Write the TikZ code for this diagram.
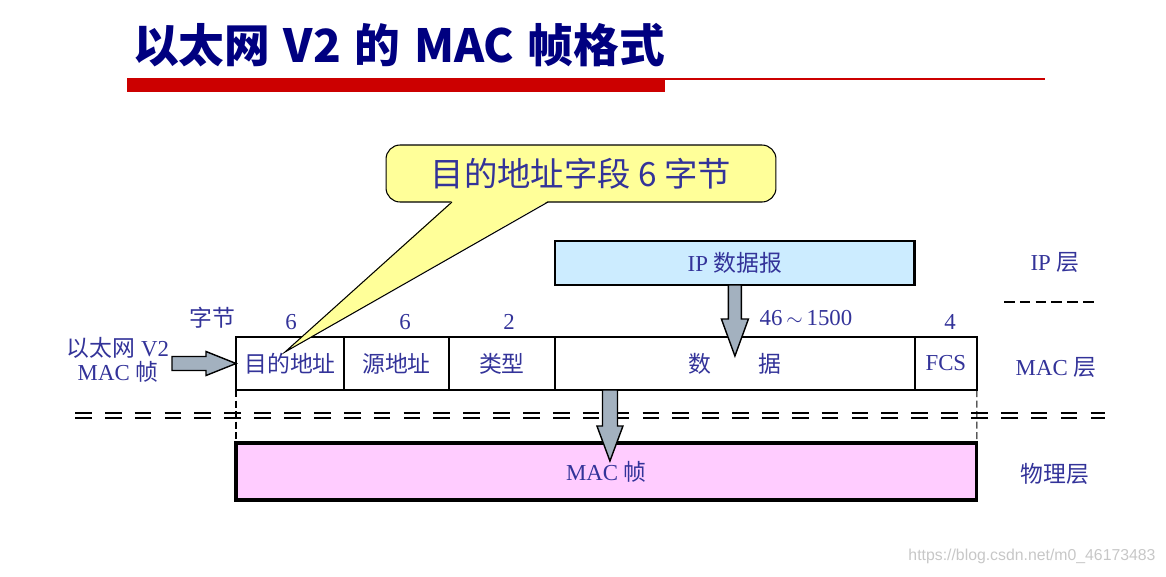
\documentclass[tikz,border=0pt]{standalone}
\usepackage{fontspec}
\setmainfont{Liberation Serif}
\newfontfamily\cjk{Noto Sans CJK SC}
\usetikzlibrary{positioning,calc}
\definecolor{txtblue}{RGB}{51,51,153}
\definecolor{titleblue}{RGB}{0,0,128}
\definecolor{barred}{RGB}{204,0,0}
\definecolor{calloutyellow}{RGB}{255,255,153}
\definecolor{ipblue}{RGB}{204,236,255}
\definecolor{macpink}{RGB}{255,204,255}
\definecolor{arrowgrey}{RGB}{163,177,191}

\begin{document}
\begin{tikzpicture}[x=0.02cm, y=-0.02cm,
  every node/.style={text=txtblue, font=\fontsize{13}{15}\selectfont, inner sep=0pt, outer sep=0pt},
  cell/.style={draw=black, line width=1.1pt, minimum height=1.06cm},
  fat/.style={draw=black, fill=arrowgrey, line width=0.8pt, line join=miter},
  sepline/.style={dash pattern=on 9.5pt off 7.5pt, line width=0.9pt}]
\useasboundingbox (0,0) rectangle (1166,576);

% title and bar
\node[anchor=west, text=titleblue, font=\cjk\bfseries\fontsize{26}{28}\selectfont] (title) at (133,45) {以太网\hspace{0.3em}V2\hspace{0.3em}的\hspace{0.3em}MAC\hspace{0.3em}帧格式};
\fill[barred] (127,78) rectangle (665,92);
\draw[barred, line width=1.2pt] (665,79) -- (1045,79);

% the frame
\node[cell, minimum width=2.16cm] (dst) at (290,363.5) {\cjk 目的地址};
\node[cell, minimum width=2.10cm, right=0pt of dst] (src) {\cjk 源地址};
\node[cell, minimum width=2.12cm, right=0pt of src] (type) {\cjk 类型};
\node[cell, minimum width=7.2cm, right=0pt of type] (data) {{\cjk 数}\hspace{27pt}{\cjk 据}};
\node[cell, minimum width=1.24cm, right=0pt of data] (fcs) {FCS};

% byte counts
\node (bytes) at (212,318) {\cjk 字节};
\node (ndst) at (291,322) {6};
\node (nsrc) at (405,322) {6};
\node (ntype) at (509,322) {2};
\node (ndata) at (806,318) {46\,$\sim$\,1500};
\node (nfcs) at (950,322) {4};

% left label and arrow
\node[align=center, font=\fontsize{13}{13.5}\selectfont] (eth) at (118,360) {{\cjk 以太网} V2\\MAC {\cjk 帧}};
\draw[fat] ($(dst.west)+(-64,-7)$) -- ++(34,0) -- ++(0,-5) -- (dst.west) -- ++(-30,12) -- ++(0,-5) -- ++(-34,0) -- cycle;

% IP datagram
\node[draw=black, fill=ipblue, line width=1.6pt, minimum width=7.2cm, minimum height=0.88cm, above=1.04cm of data] (ip) {IP {\cjk 数据报}};
\draw[fat] ($(ip.south)+(-6.5,0)$) -- ++(0,34) -- ++(-7,0) -- ($(ip.south)+(0,71)$) -- ++(13.5,-37) -- ++(-7,0) -- ++(0,-34) -- cycle;

% separator
\coordinate (sl) at (75,415.5);
\coordinate (sr) at (1105,415.5);
\draw[sepline, double, double distance=2pt] (sl) -- (sr);

% MAC frame on the physical layer
\node[draw=black, fill=macpink, line width=1.8pt, minimum width=14.82cm, minimum height=1.14cm, anchor=north west] (mac) at ($(dst.south west)+(0,53)$) {MAC {\cjk 帧}};
\draw[line width=0.6pt, dash pattern=on 4pt off 2pt] (dst.south west) -- (mac.north west);
\draw[line width=0.6pt, dash pattern=on 4pt off 2pt] (fcs.south east) -- (mac.north east);
\coordinate (ma) at ($(data.south west)+(55,0)$);
\draw[fat] ($(ma)+(-7.5,0)$) -- ++(0,36) -- ++(-5.5,0) -- ($(ma)+(0,71)$) -- ++(13,-35) -- ++(-5.5,0) -- ++(0,-36) -- cycle;

% layers
\node (iplayer) at (1055,262) {IP {\cjk 层}};
\coordinate (ld1) at (1004,302);
\coordinate (ld2) at (1095,302);
\draw[line width=0.7pt, dash pattern=on 6pt off 3pt] (ld1) -- (ld2);
\node (maclayer) at (1056,367) {MAC {\cjk 层}};
\node (phylayer) at (1055,474) {\cjk 物理层};

% callout
\node[draw=black, fill=calloutyellow, rounded corners=8pt, minimum width=7.8cm, minimum height=1.14cm, line width=0.6pt, font=\cjk\fontsize{19}{21}\selectfont] (note) at (581,173.5) {目的地址字段 6 字节};
\coordinate (tip) at ($(dst.north)+(-5,15)$);
\fill[calloutyellow] ($(note.south)+(-129,-1)$) -- (tip) -- ($(note.south)+(-33,-1)$) -- cycle;
\draw[line width=0.6pt] ($(note.south)+(-129,0)$) -- (tip) -- ($(note.south)+(-33,0)$);

% watermark
\node[text=black!22, font=\fontspec{Liberation Sans}\fontsize{9}{10}\selectfont] (mark) at (1032,556) {https://blog.csdn.net/m0\_46173483};
\end{tikzpicture}
\end{document}
